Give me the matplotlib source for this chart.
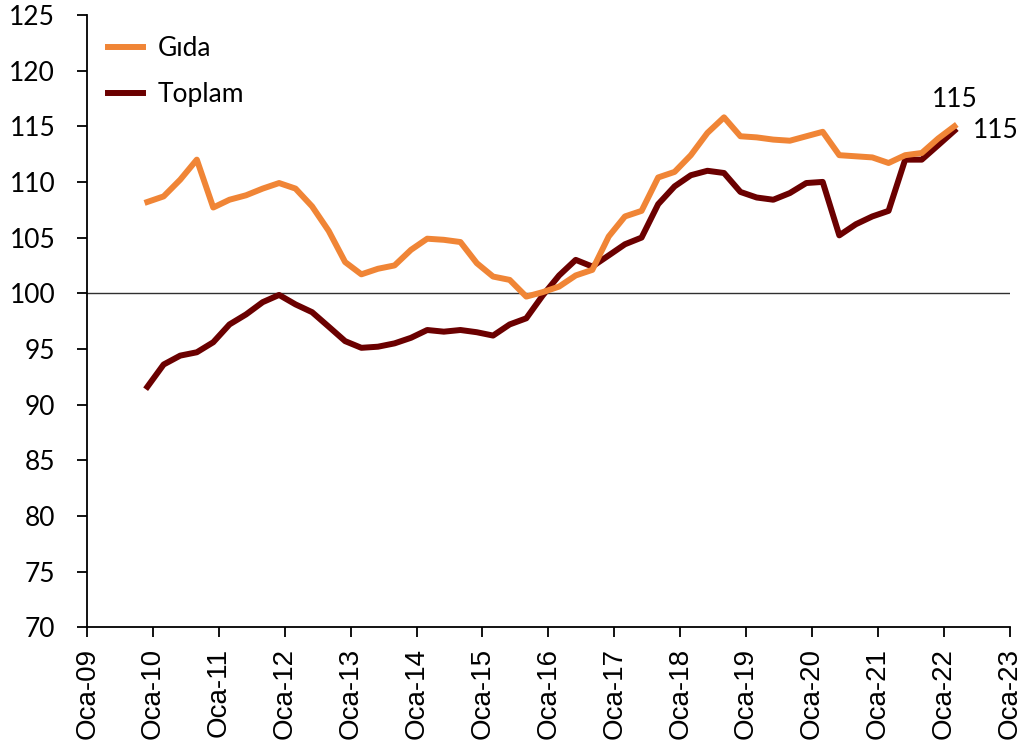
import numpy as np
import pandas as pd
import matplotlib
matplotlib.use("Agg")
import matplotlib.pyplot as plt

# quarterly observations, Dec 2009 .. Mar 2022
dates = pd.date_range("2009-12-01", periods=50, freq="3MS")

gida = [108.2, 108.7, 110.2, 112.0, 107.7, 108.4, 108.8, 109.4, 109.9, 109.4,
        107.8, 105.6, 102.8, 101.7, 102.2, 102.5, 103.9, 104.9, 104.8, 104.6,
        102.7, 101.5, 101.2, 99.7, 100.1, 100.6, 101.6, 102.1, 105.1, 106.9,
        107.4, 110.4, 110.9, 112.4, 114.4, 115.8, 114.1, 114.0, 113.8, 113.7,
        114.1, 114.5, 112.4, 112.3, 112.2, 111.7, 112.4, 112.6, 113.9, 115.0]

toplam = [91.6, 93.6, 94.4, 94.7, 95.6, 97.2, 98.1, 99.2, 99.85, 99.0,
          98.3, 97.0, 95.7, 95.1, 95.2, 95.5, 96.0, 96.7, 96.55, 96.7,
          96.5, 96.2, 97.2, 97.75, 99.8, 101.6, 103.0, 102.4, 103.4, 104.4,
          105.0, 108.0, 109.6, 110.6, 111.0, 110.8, 109.1, 108.6, 108.4, 109.0,
          109.9, 110.0, 105.2, 106.2, 106.9, 107.4, 112.0, 112.0, 113.3, 114.6]

y_ticks = list(range(70, 126, 5))
years = list(range(2009, 2024))

plt.rcParams['font.family'] = ['Lato', 'DejaVu Sans']

fig = plt.figure(figsize=(10.25, 7.45), dpi=100)
ax = fig.add_axes([0.085, 0.158, 0.900, 0.822])

ax.axhline(100, color='#303030', lw=1.0, zorder=1)
ax.plot(dates, gida, color='#F08536', lw=4.3, label='Gıda', zorder=3)
ax.plot(dates, toplam, color='#6B0000', lw=4.3, label='Toplam', zorder=2)

ax.set_ylim(70, 125)
ax.set_yticks(y_ticks)
ax.set_xlim(pd.Timestamp('2009-01-01'), pd.Timestamp('2023-01-01'))
xt = [pd.Timestamp(f'{y}-01-01') for y in years]
ax.set_xticks(xt)
ax.set_xticklabels([f'Oca-{y % 100:02d}' for y in years], rotation=90,
                   family=['Liberation Sans', 'DejaVu Sans'], fontsize=20)

ax.tick_params(axis='y', labelsize=19, length=7, width=1.3, direction='out', pad=16)
ax.tick_params(axis='x', length=7, width=1.3, direction='out', pad=8)
for s in ['top', 'right']:
    ax.spines[s].set_visible(False)
for s in ['left', 'bottom']:
    ax.spines[s].set_linewidth(1.3)

# end labels
ax.annotate(f'{gida[-1]:.0f}', (dates[-1], gida[-1]), xytext=(0, 14),
            textcoords='offset points', ha='center', va='baseline', fontsize=19)
ax.annotate(f'{toplam[-1]:.0f}', (dates[-1], toplam[-1]), xytext=(13, 0),
            textcoords='offset points', ha='left', va='center', fontsize=19)

leg = ax.legend(loc='upper left', frameon=False, fontsize=19, handlelength=1.3,
                handletextpad=0.56, borderaxespad=0.4, labelspacing=0.8)

fig.savefig('out.png', dpi=100)
